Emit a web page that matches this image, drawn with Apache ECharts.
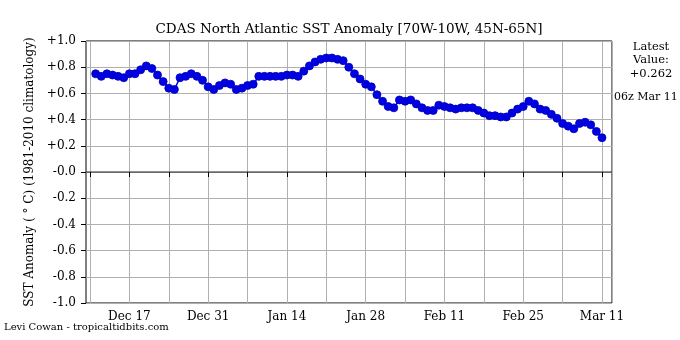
<!DOCTYPE html>
<html>
<head>
<meta charset="utf-8">
<script src="https://cdn.jsdelivr.net/npm/echarts@6/dist/echarts.min.js"></script>
<style>
  html, body { margin: 0; padding: 0; background: #fff; }
  #chart { width: 680px; height: 340px; }
</style>
</head>
<body>
<div id="chart"></div>
<script>
// Daily CDAS SST anomaly (deg C), 06z, North Atlantic box 70W-10W, 45N-65N
const firstDate = '2024-12-11';
const anomaly = [
  0.75, 0.73, 0.75, 0.74, 0.73, 0.72, 0.75, 0.75, 0.78, 0.81,
  0.79, 0.74, 0.69, 0.64, 0.63, 0.72, 0.73, 0.75, 0.73, 0.70,
  0.65,
  0.63, 0.66, 0.68, 0.67, 0.63, 0.64, 0.66, 0.67, 0.73, 0.73,
  0.73, 0.73, 0.73, 0.74, 0.74, 0.73, 0.77, 0.81, 0.84, 0.86,
  0.87, 0.87, 0.86, 0.85, 0.80, 0.75, 0.71, 0.67, 0.65, 0.59,
  0.54,
  0.50, 0.49, 0.55, 0.54, 0.55, 0.52, 0.49, 0.47, 0.47, 0.51,
  0.50, 0.49, 0.48, 0.49, 0.49, 0.49, 0.47, 0.45, 0.43, 0.43,
  0.42, 0.42, 0.45, 0.48, 0.50, 0.54, 0.52, 0.48,
  0.47, 0.44, 0.41, 0.37, 0.35, 0.33, 0.37, 0.38, 0.36, 0.31,
  0.262
];
const yTicks = [-1.0, -0.8, -0.6, -0.4, -0.2, 0.0, 0.2, 0.4, 0.6, 0.8, 1.0];
const monthNames = ['Jan', 'Feb', 'Mar', 'Apr', 'May', 'Jun', 'Jul', 'Aug', 'Sep', 'Oct', 'Nov', 'Dec'];

// x is measured in days after the week-aligned origin (one day before the first sample)
const DAY = 86400000;
const origin = Date.parse(firstDate + 'T00:00:00Z') - DAY;
const points = anomaly.map((v, i) => [i + 1, v]);
const lastValue = anomaly[anomaly.length - 1];
const lastDate = new Date(origin + anomaly.length * DAY);
const lastLabel = '06z ' + monthNames[lastDate.getUTCMonth()] + ' ' + lastDate.getUTCDate();

function dayLabel(d) {
  if (Math.round(d) % 14 !== 7) return '';
  const dt = new Date(origin + Math.round(d) * DAY);
  return monthNames[dt.getUTCMonth()] + ' ' + dt.getUTCDate();
}

const serif = 'DejaVu Serif';
const chart = echarts.init(document.getElementById('chart'), null, { renderer: 'canvas' });

chart.setOption({
  backgroundColor: '#fff',
  animation: false,
  textStyle: { fontFamily: serif },
  title: {
    text: 'CDAS North Atlantic SST Anomaly [70W-10W, 45N-65N]',
    left: 344, top: 17, textAlign: 'center',
    textStyle: { fontFamily: serif, fontSize: 13.5, fontWeight: 'normal', color: '#000' }
  },
  grid: [
    // frame, y axis and horizontal grid
    { left: 86, right: 68, top: 41, bottom: 37, show: true, borderColor: '#000', borderWidth: 1, backgroundColor: 'transparent' },
    // data area, aligned so that x = 0 falls on a weekly gridline
    { left: 90, right: 68, top: 41, bottom: 37, show: false }
  ],
  xAxis: [
    { gridIndex: 0, type: 'value', min: 0, max: 1, show: false },
    {
      gridIndex: 1, type: 'value', min: 0, max: 92.78, interval: 7,
      axisLine: { show: false },
      axisTick: { show: true, inside: false, length: 5, lineStyle: { color: '#000', width: 1 } },
      axisLabel: {
        show: true, formatter: dayLabel, margin: 8, showMinLabel: true, showMaxLabel: false,
        fontFamily: serif, fontSize: 12, color: '#000'
      },
      splitLine: { show: true, lineStyle: { color: '#b0b0b0', width: 1 } }
    }
  ],
  yAxis: [
    {
      gridIndex: 0, type: 'value', min: yTicks[0], max: yTicks[yTicks.length - 1], interval: 0.2,
      axisLine: { show: false },
      axisTick: { show: true, inside: false, length: 5, lineStyle: { color: '#000', width: 1 } },
      axisLabel: {
        margin: 10, fontFamily: serif, fontSize: 12, color: '#000',
        formatter: v => (v > 0.001 ? '+' : '-') + Math.abs(v).toFixed(1)
      },
      splitLine: { show: true, lineStyle: { color: '#b0b0b0', width: 1 } },
      name: 'SST Anomaly ( \u00b0 C) (1981-2010 climatology)',
      nameLocation: 'middle', nameRotate: 90, nameGap: 45,
      nameTextStyle: { fontFamily: serif, fontSize: 12, color: '#000' }
    },
    { gridIndex: 1, type: 'value', min: yTicks[0], max: yTicks[yTicks.length - 1], show: false }
  ],
  graphic: [
    {
      type: 'text', x: 651, y: 40,
      style: {
        text: 'Latest\nValue:\n' + (lastValue >= 0 ? '+' : '') + lastValue.toFixed(3),
        font: '11.5px "DejaVu Serif"', fill: '#000', align: 'center', lineHeight: 13.5
      }
    },
    {
      type: 'text', x: 614, y: 92,
      style: { text: lastLabel, font: '11px "DejaVu Serif"', fill: '#000' }
    },
    {
      type: 'text', x: 4, y: 322,
      style: { text: 'Levi Cowan - tropicaltidbits.com', font: '10px "DejaVu Serif"', fill: '#000' }
    }
  ],
  series: [
    {
      // zero reference line across the whole frame
      type: 'line', xAxisIndex: 0, yAxisIndex: 0,
      data: [[0, 0], [1, 0]], showSymbol: false, silent: true,
      lineStyle: { color: '#222', width: 1 }, z: 3
    },
    {
      type: 'line', xAxisIndex: 1, yAxisIndex: 1,
      data: points,
      symbol: 'circle', symbolSize: 8, showSymbol: true,
      itemStyle: { color: '#0000e6', borderColor: '#0000b0', borderWidth: 0.8 },
      lineStyle: { color: '#0000e6', width: 1.5 },
      z: 5
    }
  ]
});
</script>
</body>
</html>
